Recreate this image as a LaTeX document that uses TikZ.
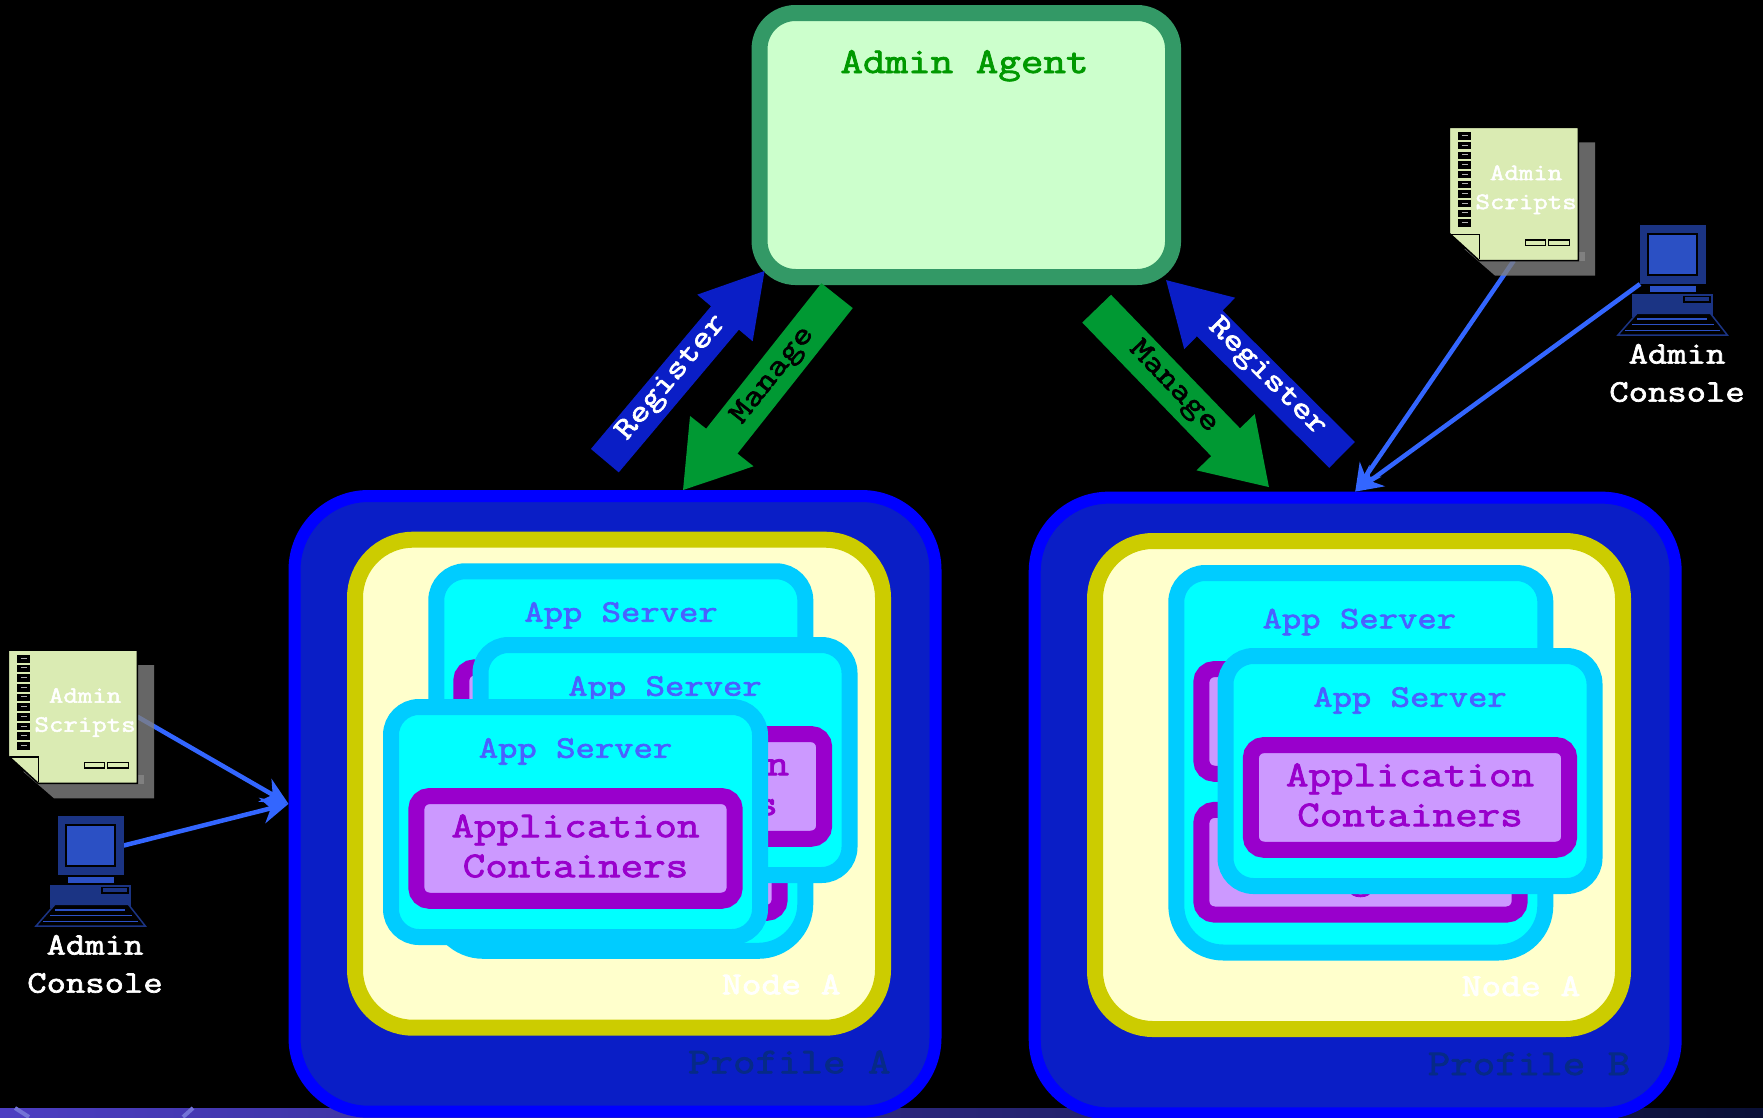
\documentclass[tikz,border=0pt]{standalone}
\usepackage{fontspec}
\usepackage{tikz}
\usetikzlibrary{arrows.meta,shapes.arrows,backgrounds}
\setmonofont{Latin Modern Mono}[FakeBold=2.2,FakeStretch=1.2]
\definecolor{paper}{HTML}{DAEBB3}
\definecolor{deskdark}{HTML}{1B3484}
\definecolor{desklight}{HTML}{2B50C4}
\definecolor{wire}{HTML}{3366FF}
\definecolor{registerblue}{HTML}{0A1EC6}
\definecolor{managegreen}{HTML}{009933}
\definecolor{servertext}{HTML}{4A60FF}
\definecolor{profileline}{HTML}{0000FF}
\definecolor{profiletext}{HTML}{062A87}
\definecolor{nodeline}{HTML}{CCCC00}
\definecolor{nodefill}{HTML}{FFFFCC}
\definecolor{serverline}{HTML}{00CCFF}
\definecolor{serverfill}{HTML}{00FFFF}
\definecolor{appline}{HTML}{9900CC}
\definecolor{appfill}{HTML}{CC99FF}
\definecolor{agentline}{HTML}{339966}
\definecolor{agentfill}{HTML}{CCFFCC}
\definecolor{agenttext}{HTML}{009900}
\definecolor{shadowgray}{HTML}{808080}
\newcommand{\txt}[2]{\fontsize{#1}{#2}\selectfont\ttfamily}
\tikzset{
  profilebox/.style={
    draw=profileline, fill=registerblue, line width=12pt, rounded corners=74pt,
    minimum width=641pt, minimum height=615.7pt
  },
  nodebox/.style={
    draw=nodeline, fill=nodefill, line width=16pt,
    rounded corners=58pt, minimum width=528pt, minimum height=488pt
  },
  serverbox/.style={
    draw=serverline, fill=serverfill, line width=16pt,
    rounded corners=28pt, minimum width=369pt, minimum height=230pt
  },
  appbox/.style={
    draw=appline, fill=appfill, line width=16pt, rounded corners=13pt,
    minimum width=318.4pt, minimum height=104.7pt, inner sep=0pt
  },
  apptext/.style={text=appline, inner sep=0pt, align=center, font=\txt{36.5}{40}},
  servertitle/.style={anchor=base, text=servertext, font=\txt{31.3}{40}},
  arrowtext/.style={font=\txt{31.3}{40}},
  registerarrow/.style={
    single arrow, fill=registerblue, inner xsep=0pt, inner ysep=18pt, anchor=tail,
    minimum height=248pt, single arrow head extend=18pt, single arrow tip angle=61
  },
  managearrow/.style={
    single arrow, fill=managegreen, inner xsep=0pt, inner ysep=19.8pt, anchor=tail,
    minimum height=248pt, single arrow head extend=20.5pt, single arrow tip angle=66
  },
  wirearrow/.style={
    draw=wire, line width=4.5pt, -{Stealth[length=27pt,width=26pt]}
  },
  scriptpage/.pic={
    \node[minimum width=129pt, minimum height=133.3pt, inner sep=0pt, outer sep=0pt]
      (page) at (64.5,66.65) {};
    \fill[shadowgray, opacity=.8] (125,15)--(145.7,15)--(145.7,148.3)--(45.7,148.3)--(15,121.7)--(60,100)--cycle;
    \fill[shadowgray] (125,125) rectangle (135.7,134);
    \draw[black, line width=1.5pt, fill=paper] (0,0)--(129,0)--(129,133.3)--(30,133.3)--(0,106)--cycle;
    \draw[black, line width=1.5pt] (2,107)--(30,107)--(30,132);
    \foreach \i in {0,...,9} {
      \fill[black] (9,5+\i*9.67) rectangle ++(12.7,7.5);
      \draw[gray!60, line width=.8pt] (12.5,8.2+\i*9.67)--(18.5,8.2+\i*9.67);
    }
    \draw[black, line width=1.5pt, fill=paper] (76,112.7) rectangle (96,118);
    \draw[black, line width=1.5pt, fill=paper] (99,112.7) rectangle (120,118);
    \node[text=white, align=center, inner sep=0pt, font=\txt{23.4}{29}] (text) at (76.8,62.5) {Admin\\Scripts};
  },
  console/.pic={
    \node[fill=deskdark, minimum width=65.7pt, minimum height=59pt, inner sep=0pt, outer sep=0pt]
      (monitor) at (32.85,29.5) {};
    \fill[black] (7.3,8) rectangle (58,51);
    \fill[desklight] (9.3,10) rectangle (56,49);
    \fill[desklight] (9.7,60.7) rectangle (56.3,67);
    \fill[deskdark] (-8,69) rectangle (73.3,92.3);
    \draw[black, line width=1.5pt, fill=deskdark] (44,71.7) rectangle (70,77);
    \draw[deskdark, line width=1.5pt, fill=black] (-3,88.3)--(70.3,88.3)--(87.3,110)--(-22,110)--cycle;
    \foreach \ya/\xa/\xb in {94/-3/67,99.7/-8/73.7,105.7/-14.7/80.3} {
      \draw[desklight, line width=1.5pt] (\xa,\ya)--(\xb,\ya);
    }
    \node[text=white, align=center, inner sep=0pt, font=\txt{31.3}{38}] (text) at (37,148) {Admin\\Console};
  }
}
\begin{document}
\begin{tikzpicture}[x=1pt,y=-1pt]
  \useasboundingbox (0,0) rectangle (1763,1117);

  \node[profilebox] (profA) at (615,803.85) {};
  \node[profilebox] (profB) at (1355.2,805.5) {};
  \node[anchor=base, text=profiletext, font=\txt{36.4}{44}] (profAtext) at (789.3,1073.3) {Profile A};
  \node[anchor=base, text=profiletext, font=\txt{36.4}{44}] (profBtext) at (1529,1075) {Profile B};

  \node[nodebox] (nodeA) at (619,783.7) {};
  \node[nodebox] (nodeB) at (1359,785) {};
  \node[anchor=base, text=white, font=\txt{32}{40}] (nodeAtext) at (781.3,994.3) {Node A};
  \node[anchor=base, text=white, font=\txt{32}{40}] (nodeBtext) at (1521,996) {Node A};

  % the server at the back of each stack
  \foreach \nm/\lx/\ty/\tx/\by in {backA/436.3/571.3/621/621.7,backB/1176.3/573/1359.3/628.3} {
    \draw[serverbox] [rounded corners=29pt] (\lx,\ty+150) -- (\lx,\ty) -- (\lx+369,\ty) -- (\lx+369,\ty+150)
      [rounded corners=47pt] -- (\lx+369,\ty+379.5) -- (\lx,\ty+379.5) -- cycle;
    \node[servertitle] (\nm title) at (\tx,\by) {App Server};
    \node[appbox] (\nm top) at (\lx+184.2,\ty+148.4) {};
    \node[appbox] (\nm low) at (\lx+184.2,\ty+289.2) {};
  }
  \node[anchor=base, text=appline, font=\txt{36.5}{40}] (backBg) at (1360.5,888.5) {g};

  \foreach \nm/\cx/\cy in {midA/665/760,frontA/575.5/822,frontB/1410/771} {
    \node[serverbox] (\nm) at (\cx,\cy) {};
    \node[servertitle] (\nm title) at (\cx,\cy-64.3) {App Server};
    \node[appbox] (\nm app) at (\cx,\cy+26.4) {};
    \node[apptext] (\nm text) at (\cx,\cy+24) {Application\\Containers};
  }

  \node[draw=agentline, fill=agentfill, line width=16pt, rounded corners=36pt,
    minimum width=413.5pt, minimum height=264pt] (agent) at (966.3,145) {};
  \node[anchor=base, text=agenttext, font=\txt{36.5}{44}] (agentlabel) at (964.5,73) {Admin Agent};

  \node[registerarrow, rotate=49.9] (regL) at (604.7,460.8) {};
  \node[managearrow, rotate=231.6] (manL) at (837.2,295.5) {};
  \node[managearrow, rotate=-46] (manR) at (1096.5,308.5) {};
  \node[registerarrow, rotate=135.2] (regR) at (1342.2,455) {};
  \node[arrowtext, text=white, rotate=49.9] (regLtext) at (672,378) {Register};
  \node[arrowtext, text=black, rotate=51.6] (manLtext) at (773.3,375.7) {Manage};
  \node[arrowtext, text=black, rotate=-46] (manRtext) at (1173.3,387.3) {Manage};
  \node[arrowtext, text=white, rotate=-44.8] (regRtext) at (1266.7,377.3) {Register};

  \pic (scrL-) at (8.3,650) {scriptpage};
  \pic (scrR-) at (1449.3,127.3) {scriptpage};
  \pic (conL-) at (58,816) {console};
  \pic (conR-) at (1640,225) {console};

  \begin{scope}[on background layer]
    \fill[black] (0,0) rectangle (1763,1117);
    \shade[left color={rgb,255:red,76;green,62;blue,194}, middle color={rgb,255:red,42;green,44;blue,125},
      right color={rgb,255:red,10;green,16;blue,54}] (0,1108) rectangle (1763,1117);
    \draw[line width=4pt, color={rgb,255:red,115;green,115;blue,215}] (15,1108)--(29,1117);
    \draw[line width=4pt, color={rgb,255:red,115;green,115;blue,215}] (193,1108)--(183,1117);
    \draw[wirearrow] (scrL-page.east) -- (profA.west);
    \draw[wirearrow] (conL-monitor.east) -- (profA.west);
    \draw[wirearrow] (scrR-page.south) -- (profB.north);
    \draw[wirearrow] (conR-monitor.south west) -- (profB.north);
  \end{scope}
\end{tikzpicture}
\end{document}
